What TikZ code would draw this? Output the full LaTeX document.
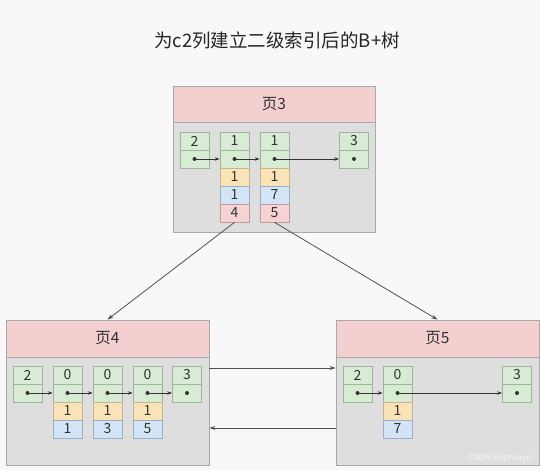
\documentclass[tikz,border=0pt]{standalone}
\usepackage{fontspec}
\setmainfont{Noto Sans CJK SC}
\usetikzlibrary{arrows.meta}
\definecolor{bgc}{HTML}{F8F8F8}
\definecolor{txt}{HTML}{333333}
\definecolor{hdr}{HTML}{F3CFCF}
\definecolor{bodyc}{HTML}{DEDEDE}
\definecolor{boxline}{HTML}{A8A8A8}
\definecolor{gfill}{HTML}{D8EBD4}
\definecolor{gline}{HTML}{9DB59A}
\definecolor{yfill}{HTML}{FBE3B8}
\definecolor{yline}{HTML}{C9B58E}
\definecolor{bfill}{HTML}{D3E4F7}
\definecolor{bline}{HTML}{9AAFC6}
\definecolor{pfill}{HTML}{F6D2D2}
\definecolor{pline}{HTML}{C09A9A}
\tikzset{
  pagebox/.style={draw=boxline, fill=bodyc, line width=0.8pt, inner sep=0pt, minimum width=203pt, minimum height=146pt},
  pagehdr/.style={draw=boxline, fill=hdr, line width=0.8pt, inner sep=0pt, minimum width=203pt, minimum height=37pt, font=\fontsize{15.5}{17}\selectfont, text=txt},
  cellbase/.style={draw, line width=0.7pt, inner sep=0pt, minimum width=29pt, minimum height=18pt, font=\fontsize{14}{15}\selectfont, text=txt},
  gcell/.style={cellbase, fill=gfill, draw=gline},
  ycell/.style={cellbase, fill=yfill, draw=yline},
  bcell/.style={cellbase, fill=bfill, draw=bline},
  pcell/.style={cellbase, fill=pfill, draw=pline},
  ptr/.style={-{Stealth[length=5pt,width=3.5pt]}, line width=0.7pt, draw=txt},
  link/.style={-{Stealth[length=6pt,width=4pt]}, line width=0.8pt, draw=txt!85},
  dotc/.style={fill=txt}
}
\begin{document}
\begin{tikzpicture}[x=1pt,y=-1pt]
\fill[bgc] (0,0) rectangle (540,470);
\useasboundingbox (0,0) rectangle (540,470);

\node[font=\fontsize{18.5}{20}\selectfont, text=black!85] (title) at (277,40) {为c2列建立二级索引后的B+树};

% page 3
\node[pagebox, minimum width=202pt] (p3) at (274,159) {};
\node[pagehdr, minimum width=202pt, minimum height=36pt] (h3) at (274,104) {页3};
\node[gcell] (a1) at (194.5,141) {2};
\node[gcell] (a2) at (194.5,159) {};
\node[gcell] (b1) at (234.5,141) {1};
\node[gcell] (b2) at (234.5,159) {};
\node[ycell] (b3) at (234.5,177) {1};
\node[bcell] (b4) at (234.5,195) {1};
\node[pcell] (b5) at (234.5,213) {4};
\node[gcell] (c1) at (274.5,141) {1};
\node[gcell] (c2) at (274.5,159) {};
\node[ycell] (c3) at (274.5,177) {1};
\node[bcell] (c4) at (274.5,195) {7};
\node[pcell] (c5) at (274.5,213) {5};
\node[gcell] (d1) at (354,141) {3};
\node[gcell] (d2) at (354,159) {};
\foreach \nn in {a2,b2,c2,d2} \fill[dotc] (\nn.center) circle (2pt);
\draw[ptr] (a2.center) -- (b2.west);
\draw[ptr] (b2.center) -- (c2.west);
\draw[ptr] (c2.center) -- (d2.west);

% page 4
\node[pagebox, minimum height=145pt] (p4) at (107.5,392.5) {};
\node[pagehdr] (h4) at (107.5,338.5) {页4};
\node[gcell] (e1) at (27.5,375) {2};
\node[gcell] (e2) at (27.5,393) {};
\node[gcell] (f1) at (67.5,375) {0};
\node[gcell] (f2) at (67.5,393) {};
\node[ycell] (f3) at (67.5,411) {1};
\node[bcell] (f4) at (67.5,429) {1};
\node[gcell] (g1) at (107.5,375) {0};
\node[gcell] (g2) at (107.5,393) {};
\node[ycell] (g3) at (107.5,411) {1};
\node[bcell] (g4) at (107.5,429) {3};
\node[gcell] (k1) at (147.5,375) {0};
\node[gcell] (k2) at (147.5,393) {};
\node[ycell] (k3) at (147.5,411) {1};
\node[bcell] (k4) at (147.5,429) {5};
\node[gcell] (m1) at (187,375) {3};
\node[gcell] (m2) at (187,393) {};
\foreach \nn in {e2,f2,g2,k2,m2} \fill[dotc] (\nn.center) circle (2pt);
\draw[ptr] (e2.center) -- (f2.west);
\draw[ptr] (f2.center) -- (g2.west);
\draw[ptr] (g2.center) -- (k2.west);
\draw[ptr] (k2.center) -- (m2.west);

% page 5
\node[pagebox, minimum height=145pt] (p5) at (437.5,392.5) {};
\node[pagehdr] (h5) at (437.5,338.5) {页5};
\node[gcell] (q1) at (357.5,375) {2};
\node[gcell] (q2) at (357.5,393) {};
\node[gcell] (r1) at (397.5,375) {0};
\node[gcell] (r2) at (397.5,393) {};
\node[ycell] (r3) at (397.5,411) {1};
\node[bcell] (r4) at (397.5,429) {7};
\node[gcell] (s1) at (517,375) {3};
\node[gcell] (s2) at (517,393) {};
\foreach \nn in {q2,r2,s2} \fill[dotc] (\nn.center) circle (2pt);
\draw[ptr] (q2.center) -- (r2.west);
\draw[ptr] (r2.center) -- (s2.west);

\node[font=\fontsize{8.5}{10}\selectfont, text=white!92!gray, anchor=east] (wm) at (535,458) {CSDN @lpruoyu};

% links
\draw[link] (b5.south) -- (h4.north);
\draw[link] (c5.south) -- (h5.north);
\draw[link] ([yshift=24.5pt]p4.east) -- ([yshift=24.5pt]p5.west);
\draw[link] ([yshift=-35.5pt]p5.west) -- ([yshift=-35.5pt]p4.east);
\end{tikzpicture}
\end{document}
